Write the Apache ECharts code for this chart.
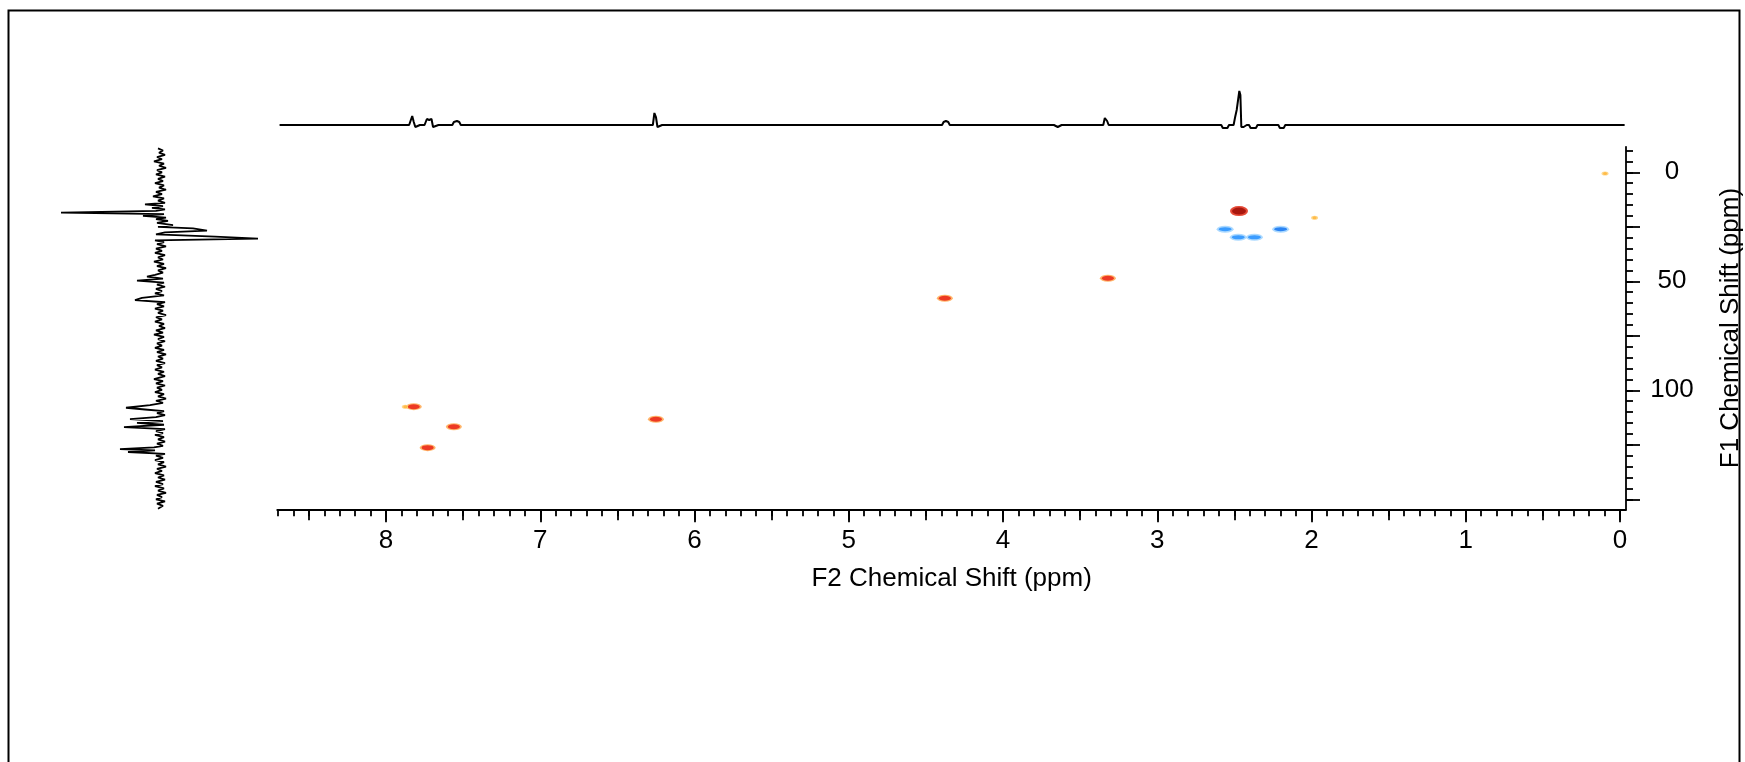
<!DOCTYPE html>
<html><head><meta charset="utf-8">
<script src="https://cdn.jsdelivr.net/npm/echarts@6/dist/echarts.min.js"></script>
<style>html,body{margin:0;padding:0;background:#fff}#c{width:1745px;height:762px}</style>
</head><body><div id="c"></div>
<script>
// ---- data ----
const f2Title = 'F2 Chemical Shift (ppm)';
const f1Title = 'F1 Chemical Shift (ppm)';
// 2D cross peaks: F2 (1H ppm), F1 (13C ppm), signed relative amplitude (phase)
const peakF2 = [2.47, 3.32, 4.377, 6.25, 7.82, 7.56, 7.73, 2.56, 2.475, 2.37, 2.20, 1.98, 0.097, 7.875];
const peakF1 = [17.8, 48.6, 57.8, 113.3, 107.5, 116.7, 126.3, 26.1, 29.8, 29.8, 26.1, 20.8, 0.5, 107.5];
const peakAmp = [1.0, 0.6, 0.6, 0.6, 0.6, 0.6, 0.6, -0.5, -0.6, -0.55, -0.7, 0.1, 0.1, 0.1];
// top (F2) projection: [ppm, intensity]
const topProj = [[8.69,0],[7.85,0],[7.84,-2],[7.83,9],[7.82,3],[7.81,-2],[7.80,0],[7.78,0],[7.75,0],[7.745,-2],[7.735,6],[7.72,5],[7.705,6],[7.695,-2],[7.685,0],[7.66,0],[7.57,0],[7.56,3],[7.54,4],[7.525,3],[7.515,0],[7.49,0],[6.27,0],[6.26,12],[6.25,8],[6.24,-2],[6.23,0],[6.21,0],[6.18,0],[4.395,0],[4.385,3],[4.37,4],[4.355,3],[4.345,0],[4.32,0],[3.67,0],[3.66,-2],[3.645,-2],[3.635,0],[3.62,0],[3.59,0],[3.35,0],[3.34,7],[3.325,4],[3.315,0],[3.29,0],[2.585,0],[2.575,-3],[2.545,-3],[2.535,0],[2.52,0],[2.505,0],[2.495,8],[2.485,15],[2.475,15],[2.468,34],[2.461,30],[2.455,-2],[2.44,-2],[2.43,0],[2.42,0],[2.405,0],[2.395,-3],[2.36,-3],[2.35,0],[2.335,0],[2.215,0],[2.205,-3],[2.18,-3],[2.17,0],[2.155,0],[2.12,0],[-0.03,0]];
// left (F1) projection: [ppm, intensity]
const leftProj = [[-11,2],[-10,-3],[-9,1],[-8,-5],[-7,3],[-6,-2],[-5,6],[-4,-4],[-3,1],[-2,-6],[-1,3],[0,-2],[1,4],[2,-5],[3,2],[4,-3],[5,5],[6,-4],[7,1],[8,-6],[9,4],[10,-2],[11,7],[12,-4],[13,2],[14,-5],[14.7,15],[15.5,-3],[16.3,8],[17,-5],[17.7,4],[18.5,99],[19.2,-4],[20,17],[20.8,-6],[21.5,4],[22.3,-8],[23.2,3],[24.2,-13],[25,2],[25.7,-33],[26.8,-47],[27.6,-5],[28.5,4],[29.5,-55],[30.4,-98],[31.2,5],[32,-4],[33,3],[34,-6],[35,4],[36,-2],[37,5],[38,-5],[39,2],[40,-3],[41,6],[42,-4],[43,3],[44,-6],[45,2],[46,-3],[47,5],[47.9,13],[48.8,-3],[49.7,23],[50.6,-4],[51.5,3],[52.5,-5],[53.5,4],[54.5,-2],[55.5,5],[56.5,-4],[57.6,18],[58.6,25],[59.6,-5],[60.5,3],[61.5,-4],[62.5,5],[63.5,-3],[64.5,2],[65.5,-6],[66.5,4],[67.5,-2],[68.5,5],[69.5,-4],[70.5,1],[71.5,-5],[72.5,4],[73.5,-3],[74.5,6],[75.5,-4],[76.5,2],[77.5,-5],[78.5,3],[79.5,-2],[80.5,5],[81.5,-4],[82.5,3],[83.5,-6],[84.5,2],[85.5,-3],[86.5,4],[87.5,-5],[88.5,3],[89.5,-2],[90.5,5],[91.5,-4],[92.5,2],[93.5,-5],[94.9,6],[95.8,-3],[96.8,4],[97.8,-5],[98.8,3],[99.8,-2],[100.8,5],[101.8,-4],[102.8,2],[103.8,-6],[104.8,4],[105.8,-3],[106.8,10],[108,34],[108.8,15],[109.6,-4],[110.5,3],[111.4,-5],[112.3,4],[113.2,30],[114.1,-3],[114.9,23],[115.8,-4],[116.9,36],[117.8,-5],[118.7,4],[119.6,-3],[120.5,5],[121.5,-4],[122.5,2],[123.5,-5],[124.5,3],[125.5,-3],[126.2,6],[127,40],[127.6,5],[128.3,32],[129.2,-5],[130,4],[131,-3],[132,5],[133,-4],[134,2],[135,-6],[136,3],[137,-2],[138,5],[139,-4],[140,2],[141,-5],[142,4],[143,-3],[144,5],[145,-4],[146,2],[147,-6],[148,3],[149,-2],[150,4],[151,-5],[152,3],[153,-3],[154.3,2]];
// axis extents (ppm)
const f2Range = [-0.039, 8.705];
const f1Range = [-11.7, 154.6];

// ---- layout helpers (pixels) ----
const X0 = 1620, KX = 154.25;   // x pixel of F2=0, px per ppm
const Y0 = 172.3, KY = 2.18;    // y pixel of F1=0, px per ppm
const xOf = v => X0 - KX * v;
const yOf = v => Y0 + KY * v;
const axisBottom = yOf(f1Range[1]);
const axisRight = xOf(f2Range[0]);
function box(x1, x2, y1, y2) {
  return {left: xOf(x2), width: xOf(x1) - xOf(x2), top: yOf(y1), height: yOf(y2) - yOf(y1), containLabel: false, outerBoundsMode: 'none'};
}
const labelFont = {fontFamily: "'Liberation Sans',Arial,sans-serif", fontSize: 26, color: '#000'};
const nameFont = {fontFamily: "'Liberation Sans',Arial,sans-serif", fontSize: 26, color: '#000'};
const tickStyle = {color: '#000', width: 1.8};
const hidden = {axisLine: {show: false, onZero: false}, axisLabel: {show: false}, splitLine: {show: false}};
const mainLine = {show: true, onZero: false, lineStyle: {color: '#000', width: 1.8}};

const peaks = peakF2.map((x, i) => [x, peakF1[i], peakAmp[i]]);
function haloColor(a) { return a > 0.8 ? '#e02a14' : a >= 0.3 ? '#ffa850' : a > 0 ? '#ffd27a' : '#9fd3ff'; }
function coreColor(a) { return a > 0.8 ? '#9a0a04' : a >= 0.3 ? '#e81a12' : a > 0 ? '#ffb43a' : a <= -0.65 ? '#0a6ef0' : '#1e8cff'; }
function haloSize(a) { return a > 0.8 ? [18, 10] : a >= 0.3 ? [16, 7] : a > 0 ? [7, 4] : [17, 7]; }
function coreSize(a) { return a > 0.8 ? [14, 7] : a >= 0.3 ? [12, 5] : a > 0 ? [4, 3] : [13, 4]; }

const grids = [
  box(f2Range[0], f2Range[1], f1Range[0], f1Range[1]),   // 0 data + axis lines
  box(0, 8.7, -10, 150),                                   // 1 minor ticks
  box(0, 8.5, 0, 150),                                     // 2 medium x ticks, major y ticks
  box(0, 8, 0, 150),                                       // 3 major x ticks + labels
  {left: xOf(f2Range[1]), width: axisRight - xOf(f2Range[1]), top: 80, height: 55, containLabel: false, outerBoundsMode: 'none'}, // 4 top projection
  {left: 55, width: 210, top: yOf(f1Range[0]), height: axisBottom - yOf(f1Range[0]), containLabel: false, outerBoundsMode: 'none'}   // 5 left projection
];
const xOff = axisBottom - yOf(150);
const yOff = axisRight - X0;

const option = {
  animation: false,
  backgroundColor: '#fff',
  grid: grids,
  xAxis: [
    {gridIndex: 0, type: 'value', min: f2Range[0], max: f2Range[1], inverse: true,
     axisLine: mainLine, axisTick: {show: false}, axisLabel: {show: false}, splitLine: {show: false},
     name: f2Title, nameLocation: 'middle', nameGap: 57, nameTextStyle: nameFont},
    Object.assign({gridIndex: 1, type: 'value', min: 0, max: 8.7, interval: 0.1, inverse: true, offset: xOff,
     axisTick: {show: true, length: 7, lineStyle: tickStyle}}, hidden),
    Object.assign({gridIndex: 2, type: 'value', min: 0, max: 8.5, interval: 0.5, inverse: true, offset: xOff,
     axisTick: {show: true, length: 11, lineStyle: tickStyle}}, hidden),
    {gridIndex: 3, type: 'value', min: 0, max: 8, interval: 1, inverse: true, offset: xOff,
     axisLine: {show: false, onZero: false}, splitLine: {show: false},
     axisTick: {show: true, length: 13, lineStyle: tickStyle},
     axisLabel: Object.assign({show: true, margin: 19, formatter: v => String(Math.round(v))}, labelFont)},
    {gridIndex: 4, type: 'value', min: f2Range[0], max: f2Range[1], inverse: true, show: false},
    {gridIndex: 5, type: 'value', min: -105, max: 105, inverse: true, show: false}
  ],
  yAxis: [
    {gridIndex: 0, type: 'value', position: 'right', min: f1Range[0], max: f1Range[1], inverse: true,
     axisLine: mainLine, axisTick: {show: false}, axisLabel: {show: false}, splitLine: {show: false},
     name: f1Title, nameLocation: 'middle', nameGap: 92, nameTextStyle: nameFont},
    Object.assign({gridIndex: 1, type: 'value', position: 'right', min: -10, max: 150, interval: 5, inverse: true, offset: yOff,
     axisTick: {show: true, length: 7, lineStyle: tickStyle}}, hidden),
    {gridIndex: 2, type: 'value', position: 'right', min: 0, max: 150, interval: 25, inverse: true, offset: yOff,
     axisLine: {show: false, onZero: false}, splitLine: {show: false},
     axisTick: {show: true, length: 14, lineStyle: tickStyle},
     axisLabel: Object.assign({show: true, margin: 46, align: 'center', formatter: v => (Math.round(v) % 50 === 0 && v < 150 ? String(Math.round(v)) : '')}, labelFont)},
    {gridIndex: 3, type: 'value', min: 0, max: 150, inverse: true, show: false},
    {gridIndex: 4, type: 'value', min: -10, max: 45, show: false},
    {gridIndex: 5, type: 'value', min: f1Range[0], max: f1Range[1], inverse: true, show: false}
  ],
  series: [
    {type: 'line', xAxisIndex: 4, yAxisIndex: 4, data: topProj, showSymbol: false, symbol: 'none',
     lineStyle: {color: '#000', width: 2}, silent: true},
    {type: 'line', xAxisIndex: 5, yAxisIndex: 5, data: leftProj.map(p => [p[1], p[0]]), showSymbol: false, symbol: 'none',
     lineStyle: {color: '#000', width: 1.8}, silent: true},
    {type: 'scatter', xAxisIndex: 0, yAxisIndex: 0, data: peaks, symbol: 'circle',
     symbolSize: d => haloSize(d[2]), itemStyle: {color: p => haloColor(p.data[2]), opacity: 0.85}, silent: true},
    {type: 'scatter', xAxisIndex: 0, yAxisIndex: 0, data: peaks, symbol: 'circle',
     symbolSize: d => coreSize(d[2]), itemStyle: {color: p => coreColor(p.data[2])}, silent: true}
  ],
  graphic: [
    {type: 'rect', shape: {x: 8.5, y: 10.5, width: 1731, height: 800}, style: {fill: 'none', stroke: '#000', lineWidth: 2}, silent: true}
  ]
};
const chart = echarts.init(document.getElementById('c'), null, {renderer: 'canvas'});
chart.setOption(option);
</script></body></html>
